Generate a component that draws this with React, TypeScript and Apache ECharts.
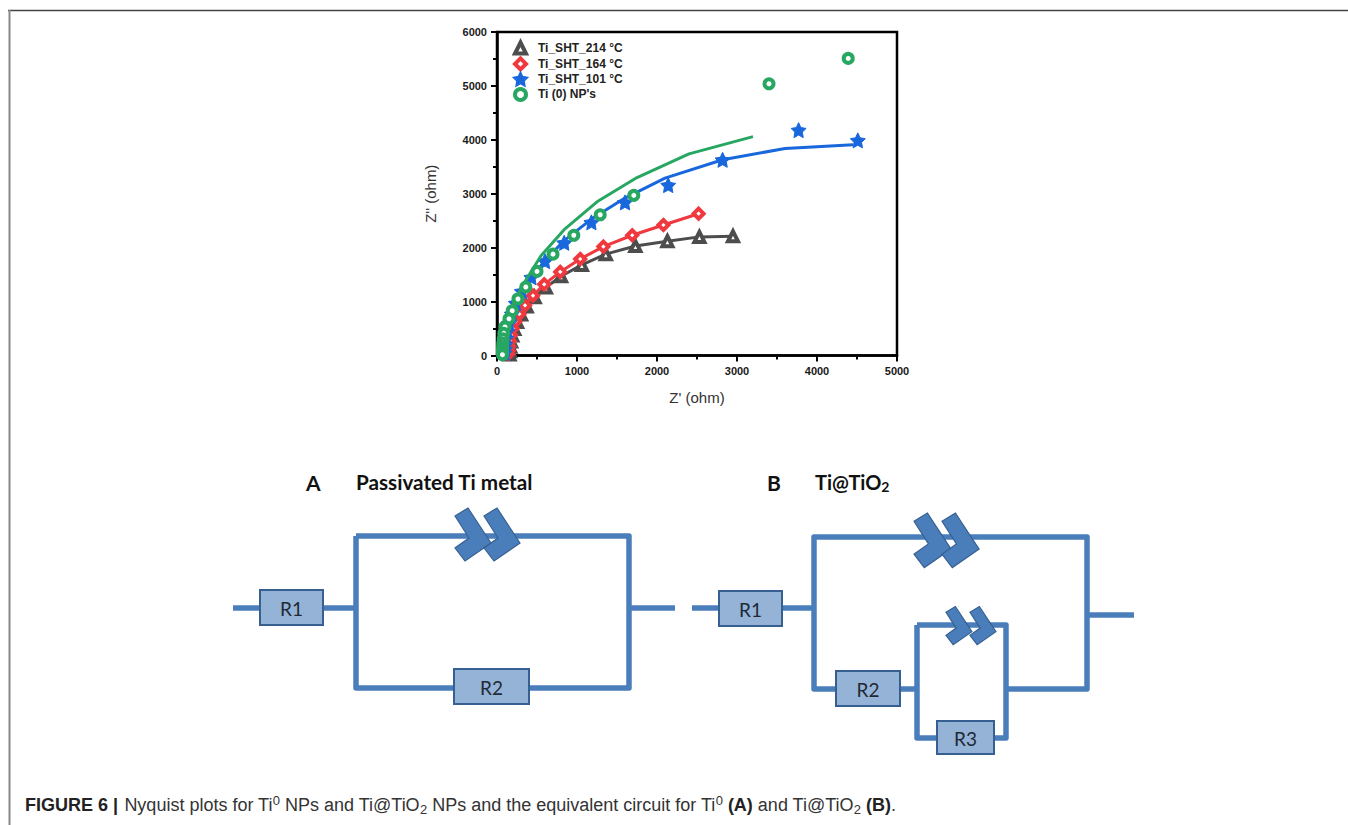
import React, { useEffect, useRef } from "react";
import * as echarts from "echarts";

const seriesNames = ["Ti_SHT_214 °C", "Ti_SHT_164 °C", "Ti_SHT_101 °C", "Ti (0) NP's"];
const xTicksMax = 5000;
const yTicksMax = 6000;

const gray214 = [[2950,2210],[2530,2200],[2130,2120],[1730,2030],[1360,1880],[1060,1680],[800,1470],[610,1260],[470,1080],[370,910],[300,760],[250,620],[215,490],[190,370],[175,260],[165,160],[160,80],[155,20]];
const red164 = [[2520,2630],[2080,2420],[1690,2230],[1330,2020],[1040,1790],[790,1550],[590,1320],[450,1110],[350,930],[280,770],[230,630],[195,500],[175,380],[160,270],[150,170],[145,90],[140,30]];
const blue101 = [[4510,3990],[3770,4180],[2820,3630],[2140,3160],[1600,2840],[1180,2470],[840,2090],[600,1750],[430,1450],[310,1190],[235,970],[185,770],[150,600],[130,450],[115,320],[105,210],[100,120],[95,50]];
const blueFit = [[4450,3910],[3600,3840],[2820,3630],[2100,3290],[1600,2920],[1180,2530],[840,2130],[600,1760],[430,1450],[310,1170],[230,930],[175,710],[145,520],[125,350],[115,200],[110,60],[105,0]];
const green0 = [[4390,5510],[3400,5040],[1710,2970],[1290,2610],[960,2230],[700,1880],[500,1560],[360,1270],[262,1048],[190,830],[150,680],[100,530],[85,410],[78,310],[72,230],[70,160],[68,100],[68,50],[68,15]];
const greenFit = [[3200,4060],[2400,3740],[1750,3300],[1250,2850],[850,2350],[550,1850],[340,1350],[200,950],[110,600],[60,350],[30,120],[20,0]];

const colors = { gray: "#4d4d4d", red: "#f0393f", blue: "#1967dc", green: "#27a761" };
const starPath = "path://M50,0 L65,32 L100,38 L75,62 L81,98 L50,81 L19,98 L25,62 L0,38 L35,32 Z";

const WIRE = "#4a7ebb";
const BOX_FILL = "#95b3d7";
const BOX_EDGE = "#376092";
const LABEL_FONT = "Lato, 'Open Sans', sans-serif";
const SANS = "'Liberation Sans', Arial, sans-serif";

const wire = (points: number[][]) => ({
  type: "polyline", silent: true, z: 10,
  shape: { points },
  style: { stroke: WIRE, lineWidth: 5.5, fill: "none", lineJoin: "round" },
});
const box = (x: number, y: number, w: number, h: number, label: string) => [
  { type: "rect", silent: true, z: 11, shape: { x, y, width: w, height: h }, style: { fill: BOX_FILL, stroke: BOX_EDGE, lineWidth: 2 } },
  { type: "text", silent: true, z: 12, x: x + w / 2, y: y + h / 2 + 1, style: { text: label, fill: "#1f2a36", font: `19px ${LABEL_FONT}`, align: "center", verticalAlign: "middle" } },
];
const chevronShape = [[0,8],[13,0],[36,35],[10,53],[0,40],[14,30]];
const chevron = (x: number, y: number, s: number) => ({
  type: "polygon", silent: true, z: 13,
  shape: { points: chevronShape.map(([a, b]) => [x + a * s, y + b * s]) },
  style: { fill: WIRE, stroke: BOX_EDGE, lineWidth: 1.2 },
});
const heading = (x: number, text: string, size = 20.7) => ({
  type: "text", silent: true, z: 12, x, y: 482,
  style: { text, fill: "#111", font: `bold ${size}px ${LABEL_FONT}`, align: "left", verticalAlign: "middle" },
});

const graphics: any[] = [
  { type: "line", silent: true, shape: { x1: 8, y1: 10.5, x2: 1348, y2: 10.5 }, style: { stroke: "#444", lineWidth: 1.5 } },
  { type: "line", silent: true, shape: { x1: 9.5, y1: 10, x2: 9.5, y2: 825 }, style: { stroke: "#888", lineWidth: 2 } },
  // circuit A
  heading(306, "A", 21),
  heading(356, "Passivated Ti metal"),
  wire([[233, 608], [260, 608]]),
  wire([[323, 608], [356, 608]]),
  wire([[356, 536], [629, 536], [629, 688], [356, 688], [356, 536]]),
  wire([[629, 608], [675, 608]]),
  ...box(260, 590, 63, 35, "R1"),
  ...box(454, 669, 75, 35, "R2"),
  chevron(455, 508, 1),
  chevron(484, 508, 1),
  // circuit B
  heading(767, "B", 21),
  {
    type: "text", silent: true, z: 12, x: 815, y: 482,
    style: {
      text: "{m|Ti@TiO}{s|2}", verticalAlign: "middle", align: "left",
      rich: {
        m: { fill: "#111", font: `bold 20px ${LABEL_FONT}` },
        s: { fill: "#111", font: `bold 14px ${LABEL_FONT}`, padding: [8, 0, 0, 0] },
      },
    },
  },
  wire([[692, 608], [719, 608]]),
  wire([[782, 608], [814, 608]]),
  wire([[836, 689], [814, 689], [814, 537], [1087, 537], [1087, 689], [1006, 689]]),
  wire([[1087, 615], [1134, 615]]),
  wire([[900, 689], [917, 689]]),
  wire([[917, 625], [1006, 625], [1006, 738], [917, 738], [917, 625]]),
  ...box(719, 591, 63, 35, "R1"),
  ...box(836, 671, 64, 35, "R2"),
  ...box(937, 721, 57, 33, "R3"),
  chevron(914, 513, 1.03),
  chevron(942, 513, 1.03),
  chevron(946, 606.5, 0.72),
  chevron(970, 606.5, 0.72),
  // caption
  {
    type: "text", silent: true, z: 12, x: 25, y: 805,
    style: {
      verticalAlign: "middle", align: "left",
      text: "{f|FIGURE 6 |} {n|Nyquist plots for Ti}{u|0}{n| NPs and Ti@TiO}{d|2}{n| NPs and the equivalent circuit for Ti}{u|0}{n| }{b|(A)}{n| and Ti@TiO}{d|2}{n| }{b|(B)}{n|.}",
      rich: {
        f: { fill: "#222", font: `bold 18px ${SANS}`, padding: [0, 3, 0, 0] },
        b: { fill: "#222", font: `bold 18px ${SANS}` },
        n: { fill: "#333", font: `18px ${SANS}` },
        u: { fill: "#333", font: `13px ${SANS}`, padding: [0, 0, 9, 0] },
        d: { fill: "#333", font: `13px ${SANS}`, padding: [8, 0, 0, 0] },
      },
    },
  },
];

const markerSeries = (name: string, data: number[][], symbol: string, size: number, color: string, hollow: boolean, z: number) => ({
  type: "scatter", name, data, symbol, symbolSize: size, z,
  itemStyle: hollow
    ? { color: "#ffffff", borderColor: color, borderWidth: 4, opacity: 1 }
    : { color, borderColor: color, borderWidth: 1, opacity: 1 },
});
const fitLine = (data: number[][], color: string, z: number) => ({
  type: "line", data, showSymbol: false, symbol: "none", smooth: false, z, legendHoverLink: false,
  lineStyle: { color, width: 3 },
});

export default function App() {
  const ref = useRef<HTMLDivElement>(null);
  useEffect(() => {
    const chart = echarts.init(ref.current!, undefined, { renderer: "svg" });
    const labelStyle = { color: "#1a1a1a", fontFamily: SANS, fontWeight: "bold" as const, fontSize: 11, formatter: (v: number) => String(v) };
    const nameStyle = { color: "#333", fontFamily: SANS, fontSize: 15 };
    const legendColors = [colors.gray, colors.red, colors.blue, colors.green];
    chart.setOption({
      animation: false,
      backgroundColor: "#fff",
      grid: { left: 497, top: 32, width: 400, height: 323.5, show: true, borderColor: "#000", borderWidth: 2.5, backgroundColor: "transparent" },
      legend: {
        show: true, left: 508, top: 35.5, orient: "vertical", itemWidth: 11, itemHeight: 11, itemGap: 0.9,
        selectedMode: false,
        data: seriesNames.map((name, i) => ({
          name,
          itemStyle: { borderColor: legendColors[i], borderWidth: i === 2 ? 3 : 4 },
        })),
        textStyle: { color: "#222", fontFamily: SANS, fontWeight: "bold", fontSize: 12, lineHeight: 13.3, padding: [0, 0, 0, 7] },
      },
      xAxis: {
        type: "value", min: 0, max: xTicksMax, interval: 1000,
        name: "Z' (ohm)", nameLocation: "middle", nameGap: 34, nameTextStyle: nameStyle,
        axisLine: { show: true, lineStyle: { color: "#000", width: 2.5 } },
        axisTick: { show: true, length: 6, inside: false, lineStyle: { color: "#000", width: 2 } },
        minorTick: { show: true, splitNumber: 2, length: 4, lineStyle: { color: "#000", width: 2 } },
        splitLine: { show: false }, minorSplitLine: { show: false },
        axisLabel: { ...labelStyle, margin: 10 },
      },
      yAxis: {
        type: "value", min: 0, max: yTicksMax, interval: 1000,
        name: "Z'' (ohm)", nameLocation: "middle", nameGap: 59, nameRotate: 90, nameTextStyle: nameStyle,
        axisLine: { show: true, lineStyle: { color: "#000", width: 2.5 } },
        axisTick: { show: true, length: 6, lineStyle: { color: "#000", width: 2 } },
        minorTick: { show: true, splitNumber: 2, length: 4, lineStyle: { color: "#000", width: 2 } },
        splitLine: { show: false }, minorSplitLine: { show: false },
        axisLabel: { ...labelStyle, margin: 10 },
      },
      series: [
        fitLine(gray214, colors.gray, 2),
        markerSeries(seriesNames[0], gray214, "triangle", 10, colors.gray, true, 3),
        fitLine(red164, colors.red, 5),
        markerSeries(seriesNames[1], red164, "diamond", 10, colors.red, true, 6),
        fitLine(blueFit, colors.blue, 7),
        markerSeries(seriesNames[2], blue101, starPath, 15, colors.blue, false, 8),
        fitLine(greenFit, colors.green, 9),
        markerSeries(seriesNames[3], green0, "circle", 9, colors.green, true, 10),
      ],
      graphic: graphics,
    });
    return () => chart.dispose();
  }, []);
  return <div ref={ref} style={{ position: "absolute", left: 0, top: 0, width: 1348, height: 825 }} />;
}
